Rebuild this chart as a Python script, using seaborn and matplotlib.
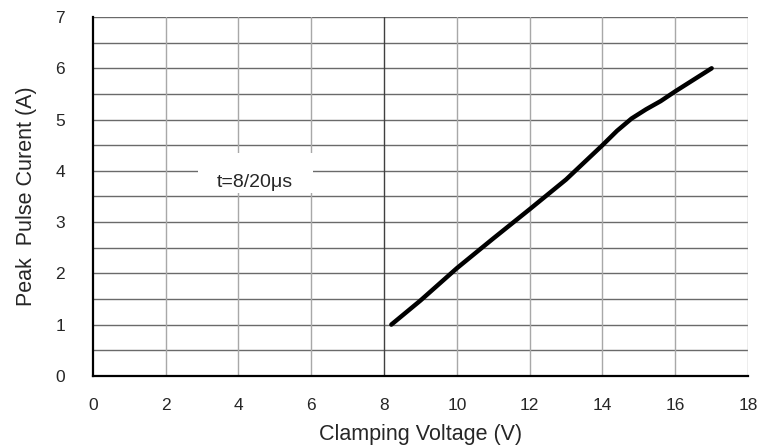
import matplotlib
matplotlib.use("Agg")
import matplotlib.pyplot as plt
from matplotlib.patches import Rectangle
import seaborn as sns
import pandas as pd
import numpy as np

voltage = [8.2, 9.0, 10.0, 11.0, 12.0, 13.0, 14.0, 14.4, 14.8, 15.2, 15.6, 16.0, 17.0]
current = [1.0, 1.47, 2.1, 2.68, 3.25, 3.83, 4.5, 4.78, 5.02, 5.2, 5.36, 5.55, 6.0]
x_ticks = [0, 2, 4, 6, 8, 10, 12, 14, 16, 18]
y_ticks = [0, 1, 2, 3, 4, 5, 6, 7]

sns.set_style("white")
plt.rcParams['font.family'] = ['Liberation Sans', 'DejaVu Sans']

df = pd.DataFrame({"Clamping Voltage (V)": voltage, "Peak Pulse Current (A)": current})

fig = plt.figure(figsize=(7.61, 4.48), dpi=100)
ax = fig.add_axes([0.122, 0.161, 0.861, 0.801])

# grid
for y in np.arange(0.5, 7.01, 0.5):
    ax.axhline(y, color="#6a6a6a", lw=1.0, zorder=1)
for x in x_ticks[1:]:
    col = "#404040" if x == 8 else "#a8a8a8"
    ax.axvline(x, color=col, lw=1.0, zorder=1)

sns.lineplot(data=df, x="Clamping Voltage (V)", y="Peak Pulse Current (A)",
             ax=ax, color="black", lw=3.2, zorder=3, solid_capstyle="round",
             solid_joinstyle="round")

ax.set_xlim(0, 18)
ax.set_ylim(0, 7)
ax.set_xticks(x_ticks)
ax.set_yticks(y_ticks)
ax.tick_params(axis="both", length=0, labelsize=12.5)
ax.tick_params(axis="x", pad=16)
ax.tick_params(axis="y", pad=20)

for s in ["top", "right"]:
    ax.spines[s].set_visible(False)
for s in ["left", "bottom"]:
    ax.spines[s].set_color("black")
    ax.spines[s].set_linewidth(1.6)
    ax.spines[s].set_zorder(4)

ax.set_xlabel("Clamping Voltage (V)", fontsize=15.5, labelpad=8)
ax.set_ylabel("Peak  Pulse Curent (A)", fontsize=15.5, labelpad=13)

ax.add_patch(Rectangle((2.88, 3.57), 3.16, 0.78, facecolor="white", edgecolor="none", zorder=2))
ax.text(4.45, 3.78, "t=8/20\u03bcs", fontsize=14, ha="center", va="center", zorder=5)

fig.savefig("out.png", dpi=100)
